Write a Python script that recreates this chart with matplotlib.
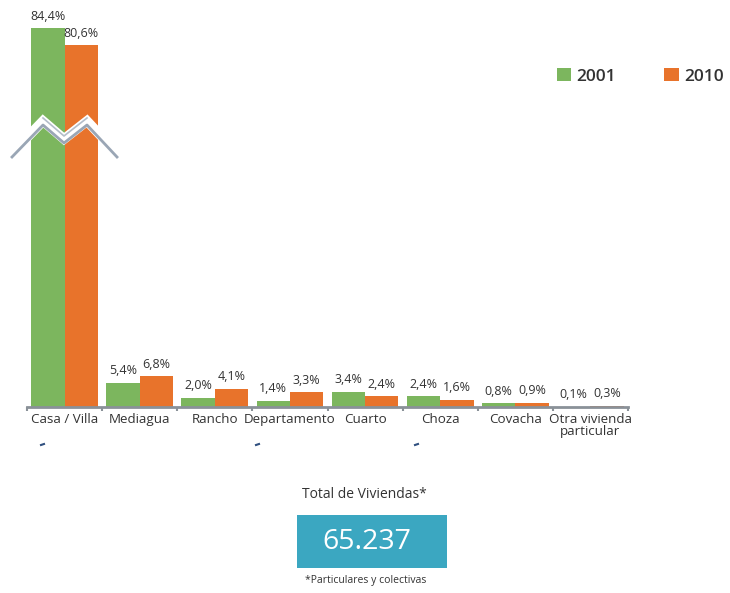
import matplotlib.pyplot as plt
import numpy as np
from matplotlib.lines import Line2D
from matplotlib.patches import Rectangle

plt.rcParams['font.family'] = ['Open Sans', 'DejaVu Sans']

# Tipos de vivienda y porcentajes por censo
categorias = ["Casa / Villa", "Mediagua", "Rancho", "Departamento", "Cuarto",
              "Choza", "Covacha", "Otra vivienda\nparticular"]
anios = ["2001", "2010"]
valores_2001 = [84.4, 5.4, 2.0, 1.4, 3.4, 2.4, 0.8, 0.1]
valores_2010 = [80.6, 6.8, 4.1, 3.3, 2.4, 1.6, 0.9, 0.3]
total_viviendas = "65.237"

verde = "#7cb65e"
naranja = "#e8732b"
gris_eje = "#8a9198"
texto = "#333333"

W, H = 730, 593
fig = plt.figure(figsize=(W / 100, H / 100), dpi=100)

def fx(px):
    return px / W

def fy(py):
    return 1 - py / H

# ejes en pixeles: x de 27 a 628, base en y=407
ax = fig.add_axes([fx(27), fy(407), fx(628 - 27), (407 - 20) / H])
x = np.arange(len(categorias))
ancho = 0.445
b1 = ax.bar(x - ancho / 2, valores_2001, ancho, color=verde, label=anios[0])
b2 = ax.bar(x + ancho / 2, valores_2010, ancho, color=naranja, label=anios[1])
ax.set_xlim(-0.5, len(categorias) - 0.5)
ax.set_ylim(0, 86.2)

for barras, vals in ((b1, valores_2001), (b2, valores_2010)):
    for rect, v in zip(barras, vals):
        ax.annotate(f"{v:.1f}%".replace(".", ","),
                    (rect.get_x() + rect.get_width() / 2, v),
                    xytext=(0, 4), textcoords="offset points",
                    ha="center", va="bottom", fontsize=9, color=texto)

for s in ["top", "right", "left"]:
    ax.spines[s].set_visible(False)
ax.spines["bottom"].set_color(gris_eje)
ax.spines["bottom"].set_linewidth(2)
ax.set_yticks([])
ax.set_xticks(x)
ax.set_xticklabels(categorias, fontsize=9.6, color=texto, linespacing=0.95)
ax.tick_params(axis="x", length=0, pad=4)
ax.set_xticks(np.arange(len(categorias) + 1) - 0.5, minor=True)
ax.tick_params(axis="x", which="minor", length=3, width=1.5, color=gris_eje)

# corte del eje en la primera barra
zx = [12, 43, 64, 87, 117]
zy = [157, 125, 143, 125, 157]
fig.add_artist(Line2D([fx(v) for v in zx], [fy(v - 4) for v in zy],
                      color="white", lw=7, solid_joinstyle="miter"))
fig.add_artist(Line2D([fx(v) for v in zx[1:4]], [fy(v - 7) for v in zy[1:4]],
                      color="#b3bdc9", lw=1.2))
fig.add_artist(Line2D([fx(v) for v in zx], [fy(v) for v in zy],
                      color="#9aa6b5", lw=2))

# marcas pequenas bajo algunas etiquetas
for mx in [43, 258, 417]:
    fig.add_artist(Line2D([fx(mx - 2), fx(mx + 1)], [fy(445), fy(444)],
                          color="#2f4f7f", lw=1.5))

# leyenda
ax.legend(handles=[b1, b2], loc="upper left", bbox_to_anchor=(fx(541), fy(52)),
          bbox_transform=fig.transFigure, ncol=2, frameon=False,
          handlelength=0.85, handleheight=0.85, handletextpad=0.3,
          columnspacing=2.75, prop={"size": 12.5, "weight": "semibold"},
          labelcolor=texto)

# recuadro del total
fig.text(fx(364), fy(495), "Total de Viviendas*", ha="center", va="center",
         fontsize=10, color=texto)
fig.add_artist(Rectangle((fx(297), fy(568)), fx(150), (568 - 515) / H,
                         facecolor="#3ba7c1", edgecolor="none"))
fig.text(fx(367), fy(542), total_viviendas, ha="center", va="center",
         fontsize=20.5, color="white")
fig.text(fx(366), fy(580), "*Particulares y colectivas", ha="center",
         va="center", fontsize=7.5, color=texto)

fig.savefig("out.png", dpi=100, facecolor="white")
